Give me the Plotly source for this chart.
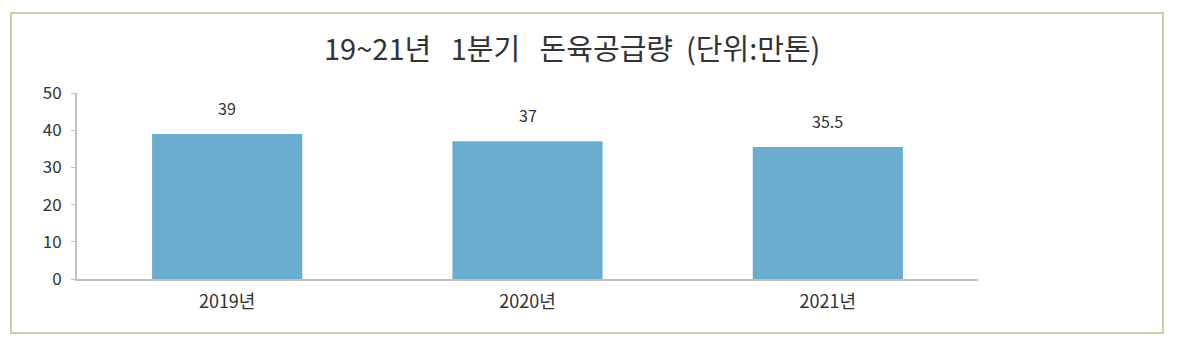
import plotly.graph_objects as go

categories = ["2019년", "2020년", "2021년"]
values = [39, 37, 35.5]
value_labels = ["39", "37", "35.5"]
y_ticks = [0, 10, 20, 30, 40, 50]
title_text = "19~21년   1분기   돈육공급량  (단위:만톤)"

OFF = 8  # page body margin
W, H = 1164, 330
# screen-pixel layout of the plot area
X0, X1, Y0, Y1 = 77, 978, 93, 279
L, T = X0 - OFF, Y0 - OFF
pw, ph = X1 - X0, Y1 - Y0
R, B = W - L - pw, H - T - ph

def px_x(x):
    return (x - X0) / pw

def px_y(y):
    return (Y1 - y) / ph

font = "Noto Sans CJK KR, Noto Sans, sans-serif"

fig = go.Figure()
fig.add_trace(go.Bar(
    x=categories, y=values, width=0.5,
    marker=dict(color="#6badcf", line=dict(width=0)),
    hoverinfo="skip",
))

for c, v, t in zip(categories, values, value_labels):
    fig.add_annotation(x=c, y=v, text=t, showarrow=False, yshift=26,
                       font=dict(size=16, color="#333333", family=font))

fig.add_shape(type="rect", xref="paper", yref="paper",
              x0=px_x(11), x1=px_x(1163), y0=px_y(333), y1=px_y(13),
              line=dict(color="#c5d2a8", width=2), fillcolor="rgba(0,0,0,0)",
              layer="below")

fig.add_annotation(xref="paper", yref="paper", x=px_x(572), y=px_y(47),
                   text=title_text, showarrow=False, xanchor="center", yanchor="middle",
                   font=dict(size=29, color="#333333", family=font))

fig.update_layout(
    width=W, height=H,
    margin=dict(l=L, r=R, t=T, b=B),
    paper_bgcolor="white", plot_bgcolor="white",
    showlegend=False, bargap=0.5,
    font=dict(family=font, color="#333333"),
    xaxis=dict(showline=True, linecolor="#c0c0c0", linewidth=2, ticks="",
               tickfont=dict(size=18, color="#333333"), showgrid=False,
               ticklabelstandoff=5, fixedrange=True),
    yaxis=dict(range=[0, 50], tickvals=y_ticks, showline=True, linecolor="#c0c0c0",
               linewidth=2, ticks="outside", ticklen=4, tickcolor="#c0c0c0",
               tickfont=dict(size=17, color="#333333"), showgrid=False,
               ticklabelstandoff=6, zeroline=False, fixedrange=True),
)

fig.write_html("out.html")
